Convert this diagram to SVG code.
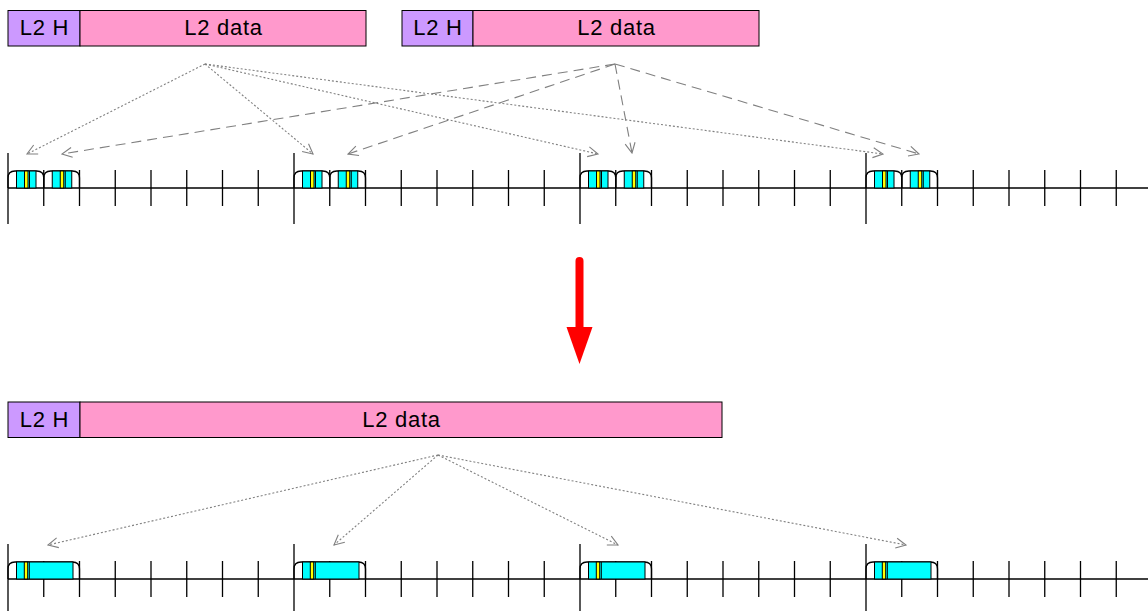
<svg xmlns="http://www.w3.org/2000/svg" width="1148" height="611" viewBox="0 0 1148 611">
<defs>
<style>
.hdr{fill:#CC99FF;stroke:#000;stroke-width:1}
.dat{fill:#FF99CC;stroke:#000;stroke-width:1}
.t{font-family:"Liberation Sans",Arial,sans-serif;font-size:22px;letter-spacing:0.7px;fill:#000;text-anchor:middle}
.axis{stroke:#000;stroke-width:1.3;fill:none}
.frm{stroke:#000;stroke-width:1.3;fill:none}
.cy{fill:#00FFFF;stroke:#000;stroke-width:1}
.ye{fill:#FFFF00;stroke:#000;stroke-width:1}
.dot{stroke:#808080;stroke-width:1.1;stroke-dasharray:2,2;fill:none;marker-end:url(#ah)}
.dash{stroke:#808080;stroke-width:1.1;stroke-dasharray:10,6;fill:none;marker-end:url(#ah)}
</style>
<marker id="ah" viewBox="0 0 12 12" refX="11" refY="6" markerWidth="12" markerHeight="12" markerUnits="userSpaceOnUse" orient="auto">
<path d="M1,1 L11,6 L1,11" fill="none" stroke="#808080" stroke-width="1.1"/>
</marker>
<g id="tl">
<line class="axis" x1="8" y1="0" x2="1148" y2="0"/>
<path class="axis" d="M8,-35V36M294,-35V36M580,-35V36M866,-35V36"/>
<path class="axis" d="M43.75,-18V18M79.5,-18V18M115.25,-18V18M151,-18V18M186.75,-18V18M222.5,-18V18M258.25,-18V18
M329.75,-18V18M365.5,-18V18M401.25,-18V18M437,-18V18M472.75,-18V18M508.5,-18V18M544.25,-18V18
M615.75,-18V18M651.5,-18V18M687.25,-18V18M723,-18V18M758.75,-18V18M794.5,-18V18M830.25,-18V18
M901.75,-18V18M937.5,-18V18M973.25,-18V18M1009,-18V18M1044.75,-18V18M1080.5,-18V18M1116.25,-18V18"/>
</g>
<g id="sf">
<path class="frm" d="M0,0V-10Q0,-17 7,-17H28.75Q35.75,-17 35.75,-10V0"/>
<rect class="cy" x="8.5" y="-17" width="19.5" height="17"/>
<rect class="ye" x="16.5" y="-17" width="3.5" height="17"/>
<line x1="21.5" y1="-17" x2="21.5" y2="0" stroke="#000" stroke-width="1"/>
</g>
<g id="lf">
<path class="frm" d="M0,0V-10Q0,-17 7,-17H64.5Q71.5,-17 71.5,-10V0"/>
<rect class="cy" x="8.5" y="-17" width="56.5" height="17"/>
<rect class="ye" x="16.3" y="-17" width="3.4" height="17"/>
<line x1="21.3" y1="-17" x2="21.3" y2="0" stroke="#000" stroke-width="1"/>
</g>
</defs>
<rect width="1148" height="611" fill="#fff"/>

<g id="pkt1">
<rect class="hdr" x="8" y="10.5" width="72" height="35.5"/>
<rect class="dat" x="80" y="10.5" width="286" height="35.5"/>
<text class="t" x="44.5" y="35">L2 H</text>
<text class="t" x="223.5" y="35">L2 data</text>
</g>
<g id="pkt2">
<rect class="hdr" x="402" y="10.5" width="71" height="35.5"/>
<rect class="dat" x="473" y="10.5" width="286" height="35.5"/>
<text class="t" x="438" y="35">L2 H</text>
<text class="t" x="616.5" y="35">L2 data</text>
</g>

<g id="timeline-top" transform="translate(0,188)">
<use href="#tl"/>
<use href="#sf" x="8"/><use href="#sf" x="43.75"/>
<use href="#sf" x="294"/><use href="#sf" x="329.75"/>
<use href="#sf" x="580"/><use href="#sf" x="615.75"/>
<use href="#sf" x="866"/><use href="#sf" x="901.75"/>
</g>

<g id="red-arrow">
<line x1="579.5" y1="261" x2="579.5" y2="332" stroke="#FF0000" stroke-width="8" stroke-linecap="round"/>
<polygon points="566.5,327 592.5,327 579.5,364" fill="#FF0000"/>
</g>

<g id="pkt3">
<rect class="hdr" x="8" y="402" width="72" height="35.5"/>
<rect class="dat" x="80" y="402" width="642" height="35.5"/>
<text class="t" x="44.5" y="426.5">L2 H</text>
<text class="t" x="401.5" y="426.5">L2 data</text>
</g>

<g id="timeline-bottom" transform="translate(0,579)">
<use href="#tl"/>
<use href="#lf" x="8"/>
<use href="#lf" x="294"/>
<use href="#lf" x="580"/>
<use href="#lf" x="866"/>
</g>

<g id="connectors">
<line class="dot" x1="205" y1="64" x2="27" y2="154"/>
<line class="dot" x1="205" y1="64" x2="313" y2="154"/>
<line class="dot" x1="205" y1="64" x2="598" y2="154"/>
<line class="dot" x1="205" y1="64" x2="883" y2="154"/>
<line class="dash" x1="615" y1="64" x2="62" y2="154"/>
<line class="dash" x1="615" y1="64" x2="348" y2="154"/>
<line class="dash" x1="615" y1="64" x2="632" y2="153"/>
<line class="dash" x1="615" y1="64" x2="919" y2="154"/>
<line class="dot" x1="438" y1="455" x2="48" y2="545"/>
<line class="dot" x1="438" y1="455" x2="334" y2="545"/>
<line class="dot" x1="438" y1="455" x2="618" y2="545"/>
<line class="dot" x1="438" y1="455" x2="906" y2="545"/>
</g>
</svg>
